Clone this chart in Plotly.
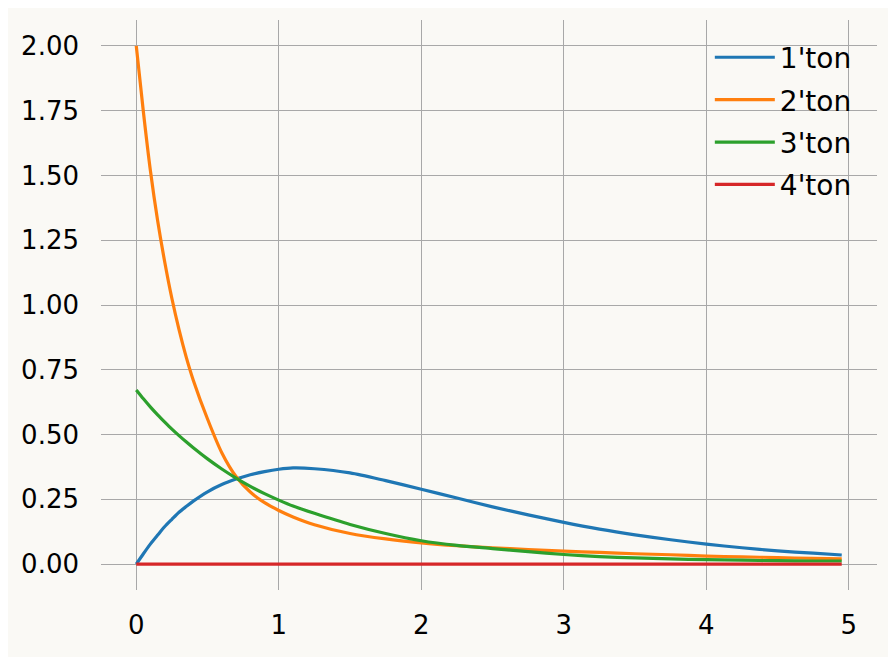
import plotly.graph_objects as go

x_vals = [0, 0.05, 0.1, 0.15, 0.2, 0.25, 0.3, 0.35, 0.4, 0.5, 0.6, 0.7, 0.8, 0.9, 1.0, 1.1, 1.25,
          1.5, 1.75, 2.0, 2.25, 2.5, 2.75, 3.0, 3.25, 3.5, 3.75, 4.0, 4.25, 4.5, 4.75, 4.95]

ton1 = [0.0, 0.040, 0.078, 0.112, 0.145, 0.173, 0.20, 0.222, 0.243, 0.279, 0.307, 0.328, 0.345, 0.357, 0.366, 0.371, 0.368,
        0.352, 0.322, 0.289, 0.255, 0.221, 0.19, 0.161, 0.135, 0.113, 0.094, 0.077, 0.063, 0.051, 0.042, 0.035]

ton2 = [2.0, 1.745, 1.515, 1.325, 1.165, 1.025, 0.905, 0.80, 0.71, 0.56, 0.43, 0.338, 0.278, 0.237, 0.207, 0.182, 0.152,
        0.118, 0.097, 0.082, 0.071, 0.063, 0.056, 0.050, 0.045, 0.040, 0.036, 0.031, 0.028, 0.025, 0.022, 0.020]

ton3 = [0.672, 0.638, 0.606, 0.576, 0.548, 0.521, 0.496, 0.472, 0.449, 0.406, 0.367, 0.332, 0.30, 0.272, 0.247, 0.224, 0.196,
        0.153, 0.118, 0.09, 0.072, 0.06, 0.048, 0.037, 0.029, 0.024, 0.02, 0.017, 0.015, 0.013, 0.012, 0.012]

ton4 = [0.0] * len(x_vals)

names = ["1'ton", "2'ton", "3'ton", "4'ton"]
series = [ton1, ton2, ton3, ton4]
colors = ["#1f77b4", "#ff7f0e", "#2ca02c", "#d62728"]

y_ticks = [0, 0.25, 0.5, 0.75, 1.0, 1.25, 1.5, 1.75, 2.0]
x_ticks = [0, 1, 2, 3, 4, 5]

bg = "#faf9f5"
grid = "#a8a8a8"

fig = go.Figure()
for name, ys, c in zip(names, series, colors):
    fig.add_trace(go.Scatter(x=x_vals, y=ys, mode="lines", name=name, legendgroup=name,
                             line=dict(color=c, width=3.2, shape="spline", smoothing=0.8)))

fig.update_layout(
    width=896, height=657,
    paper_bgcolor=bg, plot_bgcolor=bg,
    margin=dict(l=93, r=27, t=12, b=75),
    font=dict(family="DejaVu Sans", size=26, color="black"),
    showlegend=True,
    legend=dict(x=0.974, y=0.978, xanchor="right", yanchor="top", bgcolor="rgba(0,0,0,0)",
                font=dict(size=28, color="black"), tracegroupgap=3, itemwidth=60),
    xaxis=dict(range=[-0.2475, 5.1975], tickvals=x_ticks, ticktext=[str(v) for v in x_ticks],
               showgrid=True, gridcolor=grid, gridwidth=0.8, zeroline=False, showline=False,
               ticks="", ticklabelstandoff=17),
    yaxis=dict(range=[-0.1, 2.1], tickvals=y_ticks, ticktext=[f"{v:.2f}" for v in y_ticks],
               showgrid=True, gridcolor=grid, gridwidth=0.8, zeroline=False, showline=False,
               ticks="", ticklabelstandoff=21),
)

fig.write_html("out.html")
